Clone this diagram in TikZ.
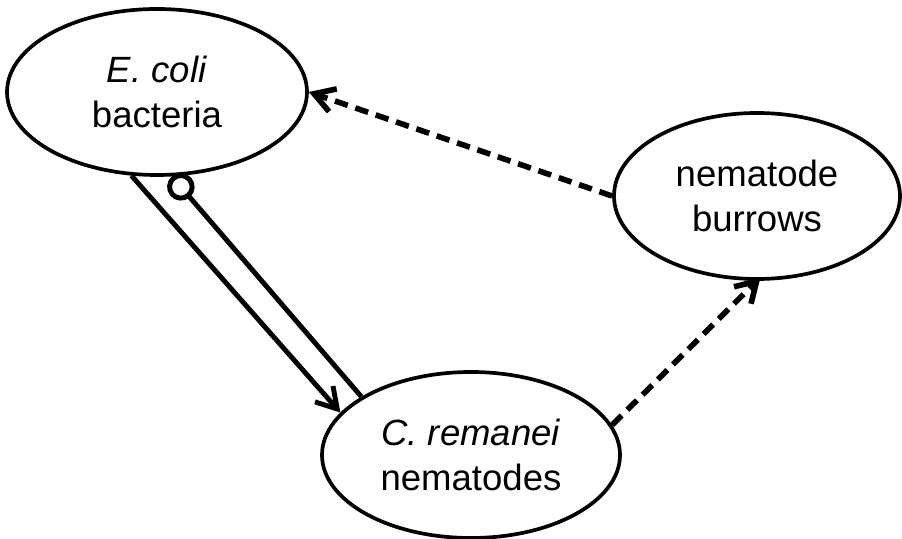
\documentclass[tikz,border=0pt]{standalone}
\usepackage{fontspec}
\setmainfont{Liberation Sans}
\usepackage{tikz}
\usetikzlibrary{arrows.meta,shapes.geometric,positioning}

\begin{document}
\begin{tikzpicture}
    \useasboundingbox (0,0) rectangle (18.04,-10.78);
    %Species and habitat
     \begin{scope}[every node/.style={ellipse,line width=2.1pt,draw,inner sep=0pt,
        minimum height=3.32cm,align=center,font=\fontsize{20.8}{25.6}\selectfont}]
       \node[minimum width=6cm] (ecoli) at (3.14,-1.84) {\textit{E. coli}\\bacteria};
       \node[minimum width=5.72cm] (burrows) at (15.14,-3.92) {nematode\\burrows};
       \node[minimum width=5.96cm] (remanei) at (9.42,-9.1) {\textit{C. remanei}\\nematodes};
    \end{scope}

    %Interactions
    \begin{scope}[every edge/.style={draw,line width=2.8pt},
       barb/.style={-{Straight Barb[length=0.4cm,width=0.48cm]}}]
      \path (ecoli.-107) edge[barb] (remanei.162);
      \path (ecoli.-80) edge[{Circle[open,length=0.55cm]}-] (remanei.152);
    \end{scope}

    \begin{scope}[every edge/.style={draw,line width=3.2pt,dash pattern=on 0.27cm off 0.16cm,
       -{Straight Barb[length=0.4cm,width=0.48cm]}}]
      \path (burrows.west) edge (ecoli.east);
      \path (remanei.12) edge[shorten >=-0.1cm] (burrows.south);
    \end{scope}
  \end{tikzpicture}
\end{document}
